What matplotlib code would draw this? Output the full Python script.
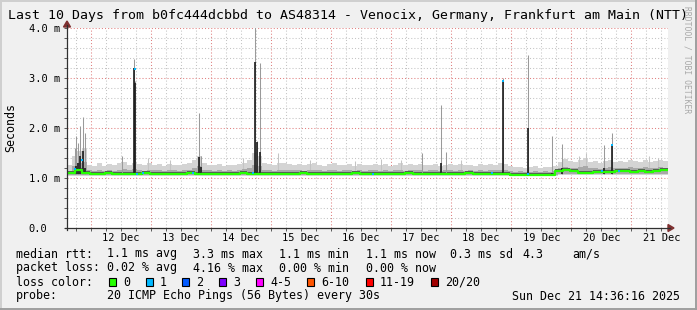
import numpy as np
import pandas as pd
import matplotlib
matplotlib.use("Agg")
import matplotlib.pyplot as plt
import matplotlib.dates as mdates
from matplotlib.patches import Rectangle, Polygon
from matplotlib.lines import Line2D

W, H = 697, 310
START = pd.Timestamp("2025-12-11 14:36:16")
END = START + pd.Timedelta(days=10)

# --- smoke: outer top of the 20 pings, one value per 2 h bin (ms) ---
smoke_top = [
    1.26, 1.45, 1.55, 1.60, 1.27, 1.25, 1.30, 1.24, 1.28, 1.26,
    1.30, 1.32, 1.27, 1.31, 1.28, 1.26, 1.30, 1.27, 1.29, 1.25,
    1.29, 1.27, 1.26, 1.28, 1.30, 1.36, 1.45, 1.30, 1.27, 1.26,
    1.28, 1.25, 1.27, 1.26, 1.29, 1.31, 1.36, 1.50, 1.45, 1.30,
    1.28, 1.26, 1.30, 1.30, 1.28, 1.27, 1.29, 1.26, 1.28, 1.30,
    1.27, 1.25, 1.28, 1.30, 1.26, 1.27, 1.29, 1.25, 1.28, 1.26,
    1.27, 1.29, 1.26, 1.28, 1.25, 1.27, 1.30, 1.26, 1.28, 1.27,
    1.29, 1.26, 1.27, 1.28, 1.25, 1.27, 1.29, 1.26, 1.28, 1.26,
    1.27, 1.25, 1.28, 1.26, 1.29, 1.27, 1.30, 1.28, 1.24, 1.22,
    1.23, 1.21, 1.22, 1.24, 1.21, 1.23, 1.22, 1.25, 1.33, 1.38,
    1.34, 1.32, 1.36, 1.40, 1.33, 1.35, 1.31, 1.34, 1.36, 1.32,
    1.35, 1.33, 1.37, 1.34, 1.32, 1.36, 1.33, 1.35, 1.37, 1.34,
]
floor_start_h = [0, 196]
floor_ms = [1.04, 1.07]

# --- median rtt, one value per 3 h bin (ms) ---
median_ms = [
    1.10, 1.17, 1.10, 1.09, 1.09, 1.10, 1.09, 1.08, 1.09, 1.09,
    1.10, 1.09, 1.09, 1.08, 1.09, 1.09, 1.10, 1.09, 1.09, 1.09,
    1.08, 1.09, 1.09, 1.10, 1.09, 1.09, 1.09, 1.08, 1.09, 1.09,
    1.09, 1.10, 1.09, 1.09, 1.08, 1.09, 1.09, 1.09, 1.10, 1.09,
    1.09, 1.09, 1.08, 1.09, 1.09, 1.10, 1.09, 1.09, 1.09, 1.08,
    1.09, 1.09, 1.09, 1.10, 1.09, 1.09, 1.09, 1.09, 1.09, 1.07,
    1.07, 1.07, 1.07, 1.07, 1.07, 1.15, 1.16, 1.15, 1.11, 1.11,
    1.12, 1.12, 1.12, 1.14, 1.15, 1.13, 1.14, 1.13, 1.14, 1.16,
]

# --- spikes (hours since start, outer top, dark core top) ---
spike_h = [3.0, 3.6, 4.4, 5.0, 6.4, 7.0, 22.0, 26.8, 27.2, 52.8, 53.6, 75.2, 76.0,
           77.2, 141.6, 149.2, 151.2, 174.0, 184.0, 193.6, 197.6, 214.4, 217.6]
spike_top = [1.60, 1.85, 1.70, 2.05, 2.22, 1.90, 1.44, 3.38, 2.95, 2.30, 1.45, 4.05, 1.75,
             3.30, 1.50, 2.46, 1.52, 3.00, 3.46, 1.84, 1.68, 1.66, 1.90]
spike_core = [1.20, 1.25, 1.30, 1.45, 1.55, 1.20, 1.10, 3.20, 2.90, 1.42, 1.22, 3.32, 1.72,
              1.52, 1.10, 1.30, 1.10, 2.95, 2.00, 1.10, 1.20, 1.20, 1.64]

# --- thin light smoke streaks (hours since start, top) ---
streak_h = [32.4, 41.2, 70.4, 84.4, 97.2, 115.2, 125.2, 133.2, 157.2, 204.4, 207.2, 232.4, 236.0]
streak_top = [1.40, 1.36, 1.40, 1.50, 1.36, 1.34, 1.38, 1.36, 1.36, 1.45, 1.50, 1.45, 1.40]

# --- median points with 1/20 loss ---
loss1_h = [3.2, 6.0, 27.0, 28.0, 30.4, 50.4, 74.4, 122.0, 169.6, 174.0, 184.0, 213.6, 217.6, 220.4]
loss1_ms = [1.18, 1.36, 3.18, 1.08, 1.11, 1.10, 1.10, 1.09, 1.11, 2.95, 1.08, 1.14, 1.66, 1.15]

loss_labels = ["0", "1", "2", "3", "4-5", "6-10", "11-19", "20/20"]
loss_colors = ["#26ff00", "#00b8ff", "#0059ff", "#7e00ff", "#ff00ff", "#ff5500", "#ff0000", "#a10000"]

title = "Last 10 Days from b0fc444dcbbd to AS48314 - Venocix, Germany, Frankfurt am Main (NTT)"
rtt_stats = ["median rtt:", "1.1 ms avg", "3.3 ms max", "1.1 ms min", "1.1 ms now", "0.3 ms sd", "4.3", "am/s"]
loss_stats = ["packet loss:", "0.02 % avg", "4.16 % max", "0.00 % min", "0.00 % now"]
probe_text = "20 ICMP Echo Pings (56 Bytes) every 30s"
stamp = "Sun Dec 21 14:36:16 2025"

MONO = "DejaVu Sans Mono"


def fx(x):
    return x / W


def fy(y):
    return 1 - y / H


t0 = mdates.date2num(START)


def tx(h):
    return t0 + np.asarray(h, dtype=float) / 24.0


fig = plt.figure(figsize=(W / 100, H / 100), dpi=100, facecolor="#f0f0f0")
ax = fig.add_axes([fx(67), fy(228), 601 / W, 200 / H])
ax.set_facecolor("white")
ax.set_xlim(t0, t0 + 10)
ax.set_ylim(0, 4.0)
for s in ax.spines.values():
    s.set_visible(False)

# grid
for d in pd.date_range(START.ceil("6h"), END, freq="6h"):
    c = "#e08080" if d.hour == 0 else "#c4c4c4"
    ax.axvline(mdates.date2num(d), color=c, lw=0.75, ls=(0, (1, 2)), zorder=1)
for v in np.arange(0.2, 4.01, 0.2):
    c = "#e08080" if abs(v - round(v)) < 1e-6 else "#c4c4c4"
    ax.axhline(v, color=c, lw=0.75, ls=(0, (1, 2)), zorder=1)

# smoke
top = np.array(smoke_top)
h2 = np.arange(len(top) + 1) * 2.0
floor = np.array([floor_ms[np.searchsorted(floor_start_h, h, side="right") - 1] for h in h2[:-1]])
ext = lambda a: np.append(a, a[-1])
ax.fill_between(tx(h2), ext(floor), ext(top), step="post", color="#d4d4d4", lw=0, zorder=2)
ax.vlines(tx(streak_h), 1.1, streak_top, color="#c4c4c4", lw=0.75, zorder=2)
mid = floor + 0.5 * (top - floor)
ax.fill_between(tx(h2), ext(floor + 0.015), ext(mid), step="post", color="#a8a8a8", lw=0, zorder=2)

med = np.array(median_ms)
h3 = np.arange(len(med) + 1) * 3.0
ax.fill_between(tx(h3), ext(med - 0.02), ext(med + 0.04), step="post", color="#575757", lw=0, zorder=3)

# spikes
ax.vlines(tx(spike_h), 1.08, spike_top, color="#9a9a9a", lw=0.75, zorder=4)
ax.vlines(tx(spike_h), 1.08, spike_core, color="#1c1c1c", lw=1.2, zorder=4)

# median line
ax.step(tx(h3), ext(med), where="post", color=loss_colors[0], lw=1.6, zorder=5)
ax.scatter(tx(loss1_h), loss1_ms, marker="s", s=3, color=loss_colors[1], lw=0, zorder=6)

# ticks
days = pd.date_range("2025-12-12 12:00", "2025-12-21 12:00", freq="D")
ax.set_xticks(mdates.date2num(days))
ax.xaxis.set_major_formatter(mdates.DateFormatter("%d %b"))
ax.set_xticks(mdates.date2num(pd.date_range(START.ceil("6h"), END, freq="6h")), minor=True)
ax.set_yticks([0, 1, 2, 3, 4])
ax.set_yticklabels(["0.0", "1.0 m", "2.0 m", "3.0 m", "4.0 m"])
ax.set_yticks(np.arange(0, 4.01, 0.2), minor=True)
ax.tick_params(axis="both", which="both", length=2, width=0.6, color="#404040",
               labelsize=7.5, labelfontfamily=MONO)
ax.tick_params(axis="x", pad=1.5)
ax.tick_params(axis="y", pad=25.5)
for lbl in ax.get_yticklabels():
    lbl.set_horizontalalignment("left")

# axes lines with arrows
fig.add_artist(Line2D([fx(65), fx(670)], [fy(228), fy(228)], color="#303030", lw=0.9))
fig.add_artist(Line2D([fx(67), fx(67)], [fy(230), fy(25)], color="#303030", lw=0.9))
fig.add_artist(Polygon([(fx(668), fy(224.5)), (fx(668), fy(231.5)), (fx(674), fy(228))],
                       closed=True, color="#7f3030"))
fig.add_artist(Polygon([(fx(63.5), fy(27)), (fx(70.5), fy(27)), (fx(67), fy(21))],
                       closed=True, color="#7f3030"))

# texts
fig.text(0.5, fy(15), title, ha="center", va="center", fontsize=9.5, family=MONO)
fig.text(fx(11), fy(128), "Seconds", rotation=90, ha="center", va="center", fontsize=8.4, family=MONO)
fig.text(fx(687), fy(60), "RRDTOOL / TOBI OETIKER", rotation=270, ha="center", va="center",
         fontsize=5.8, family=MONO, color="#a8a8a8")

col_x = [16, 107, 193, 279, 366, 450, 522, 572]
for x, s in zip(col_x, rtt_stats):
    fig.text(fx(x), fy(254), s, ha="left", va="center", fontsize=8.4, family=MONO)
for x, s in zip(col_x, loss_stats):
    fig.text(fx(x), fy(268), s, ha="left", va="center", fontsize=8.4, family=MONO)
fig.text(fx(16), fy(282), "loss color:", ha="left", va="center", fontsize=8.4, family=MONO)
box_x = [109, 146, 182, 219, 256, 307, 366, 431]
for x, lab, c in zip(box_x, loss_labels, loss_colors):
    fig.add_artist(Rectangle((fx(x), fy(285.5)), 7 / W, 7.5 / H, facecolor=c,
                             edgecolor="black", lw=0.8))
    fig.text(fx(x + 14), fy(282), lab, ha="left", va="center", fontsize=8.4, family=MONO)
fig.text(fx(16), fy(296), "probe:", ha="left", va="center", fontsize=8.4, family=MONO)
fig.text(fx(107), fy(296), probe_text, ha="left", va="center", fontsize=8.4, family=MONO)
fig.text(fx(680), fy(296), stamp, ha="right", va="center", fontsize=8.4, family=MONO)

# outer frame
fig.add_artist(Line2D([0, 1], [fy(0.5), fy(0.5)], color="#cfcfcf", lw=1.4))
fig.add_artist(Line2D([fx(0.5), fx(0.5)], [0, 1], color="#cfcfcf", lw=1.4))
fig.add_artist(Line2D([0, 1], [fy(309), fy(309)], color="#9e9e9e", lw=1.4))
fig.add_artist(Line2D([fx(696), fx(696)], [0, 1], color="#9e9e9e", lw=1.4))

fig.savefig("out.png", dpi=100, facecolor=fig.get_facecolor())
